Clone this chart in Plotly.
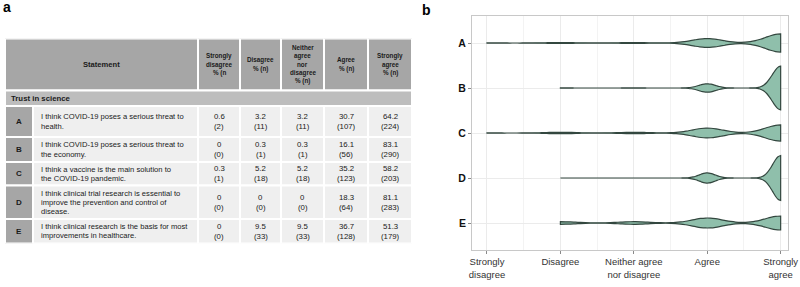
import numpy as np
import plotly.graph_objects as go

W, H = 800, 287

# ---------------- data ----------------
row_ids = ["A", "B", "C", "D", "E"]
statements = [
    "I think COVID-19 poses a serious threat to<br>health.",
    "I think COVID-19 poses a serious threat to<br>the economy.",
    "I think a vaccine is the main solution to<br>the COVID-19 pandemic.",
    "I think clinical trial research is essential to<br>improve the prevention and control of<br>disease.",
    "I think clinical research is the basis for most<br>improvements in healthcare.",
]
pct_strongly_disagree = ["0.6", "0", "0.3", "0", "0"]
pct_disagree = ["3.2", "0.3", "5.2", "0", "9.5"]
pct_neither = ["3.2", "0.3", "5.2", "0", "9.5"]
pct_agree = ["30.7", "16.1", "35.2", "18.3", "36.7"]
pct_strongly_agree = ["64.2", "83.1", "58.2", "81.1", "51.3"]
n_strongly_disagree = [2, 0, 1, 0, 0]
n_disagree = [11, 1, 18, 0, 33]
n_neither = [11, 1, 18, 0, 33]
n_agree = [107, 56, 123, 64, 128]
n_strongly_agree = [224, 290, 203, 283, 179]
# lowest response level at which each violin starts
violin_start = [1, 2, 1, 2, 2]

header_labels = ["Statement", "Strongly<br>disagree<br>% (n", "Disagree<br>% (n)",
                 "Neither<br>agree<br>nor<br>disagree<br>% (n)", "Agree<br>% (n)",
                 "Strongly<br>agree<br>% (n)"]
section_label = "Trust in science"
likert_labels = ["Strongly<br>disagree", "Disagree", "Neither agree<br>nor disagree",
                 "Agree", "Strongly<br>agree"]
likert_levels = [1, 2, 3, 4, 5]

# ---------------- layout constants (pixels) ----------------
FONT = "Liberation Sans, Arial, sans-serif"
TXT = "#1a1a1a"
HEADER_FILL = "#a6a6a6"
SECTION_FILL = "#bdbdbd"
LABEL_FILL = "#a6a6a6"
BODY_FILL = "#efefef"
col_widths = [28, 165, 42, 41, 43, 44, 44]          # id, statement, 5 answer columns
row_heights = [52, 15.5, 31, 25, 23.5, 33.5, 24.5]  # header, section, A..E
TABLE_LEFT, TABLE_TOP = 5, 38.5

def px_x(p):
    return p / W

def px_y(p):
    return 1 - p / H

col_edges = np.concatenate([[0], np.cumsum(col_widths)])
row_edges = np.concatenate([[0], np.cumsum(row_heights)])
table_w, table_h = col_edges[-1], row_edges[-1]

fig = go.Figure()
shapes, annotations = [], []

def add_cell(c0, c1, r, fill, text, align="center", bold=False, size=7.6,
             spacing=9.2, pad=7):
    x0, x1 = col_edges[c0], col_edges[c1]
    y0, y1 = row_edges[r], row_edges[r + 1]
    shapes.append(dict(type="rect", xref="x2", yref="y2", x0=x0, x1=x1, y0=y0, y1=y1,
                       fillcolor=fill, line=dict(color="white", width=2), layer="below"))
    if align == "left":
        xa, xanchor = x0 + pad, "left"
    else:
        xa, xanchor = (x0 + x1) / 2, "center"
    lines = text.split("<br>")
    yc = (y0 + y1) / 2
    for k, line in enumerate(lines):
        annotations.append(dict(
            xref="x2", yref="y2", x=xa, y=yc + (k - (len(lines) - 1) / 2) * spacing,
            xanchor=xanchor, yanchor="middle", borderpad=0,
            text=f"<b>{line}</b>" if bold else line, showarrow=False,
            font=dict(family=FONT, size=size, color=TXT)))

# header row
add_cell(0, 2, 0, HEADER_FILL, header_labels[0], bold=True, size=7.6)
for j, lab in enumerate(header_labels[1:]):
    add_cell(2 + j, 3 + j, 0, HEADER_FILL, lab, bold=True, size=6.3, spacing=8.3)
# section row
add_cell(0, 7, 1, SECTION_FILL, section_label, align="left", bold=True, size=7.8, pad=5)
# body rows
pct_cols = [pct_strongly_disagree, pct_disagree, pct_neither, pct_agree, pct_strongly_agree]
n_cols = [n_strongly_disagree, n_disagree, n_neither, n_agree, n_strongly_agree]
for i, rid in enumerate(row_ids):
    r = 2 + i
    add_cell(0, 1, r, LABEL_FILL, rid, bold=True, size=8)
    add_cell(1, 2, r, BODY_FILL, statements[i], align="left", size=7.6, spacing=9.2, pad=7)
    for j in range(5):
        add_cell(2 + j, 3 + j, r, BODY_FILL, f"{pct_cols[j][i]}<br>({n_cols[j][i]})",
                 size=7.8, spacing=9.8)

# ---------------- violins ----------------
def nrd0(vals):
    sd = np.std(vals, ddof=1)
    q1, q3 = np.percentile(vals, [25, 75])
    lo = min(sd, (q3 - q1) / 1.34)
    if lo == 0:
        lo = sd
    return 0.9 * lo * len(vals) ** -0.2

def max_kde(vals, bw, lo, hi):
    t = np.linspace(lo, hi, 801)
    d = np.exp(-0.5 * ((t[:, None] - vals[None, :]) / bw) ** 2).sum(axis=1)
    return (d / (len(vals) * bw * np.sqrt(2 * np.pi))).max()

counts = list(zip(n_strongly_disagree, n_disagree, n_neither, n_agree, n_strongly_agree))
samples = [np.repeat(likert_levels, c).astype(float) for c in counts]
bws = [nrd0(v) for v in samples]
peaks = [max_kde(v, b, s, 5) for v, b, s in zip(samples, bws, violin_start)]
MAXW = 1.0  # full width (category units) of the densest violin; others scale by area

for rid, vals, bw, start, pk in zip(row_ids, samples, bws, violin_start, peaks):
    fig.add_trace(go.Violin(
        x=vals, y=[rid] * len(vals), orientation="h",
        spanmode="manual", span=[start, 5], bandwidth=bw,
        points=False, box_visible=False, meanline_visible=False,
        fillcolor="#8fbfab", line=dict(color="#33473f", width=1.2),
        scalemode="width", width=MAXW * pk / max(peaks),
        opacity=1, showlegend=False, hoverinfo="skip",
        xaxis="x", yaxis="y",
    ))

axis_common = dict(showline=True, linecolor="#c8c8c8", mirror=True, zeroline=False,
                   ticks="outside", ticklen=3, tickcolor="#8a8a8a",
                   showgrid=True, gridcolor="#ebebeb", gridwidth=1)

fig.update_layout(
    width=W, height=H, margin=dict(l=0, r=0, t=0, b=0),
    paper_bgcolor="white", plot_bgcolor="white",
    violinmode="overlay", showlegend=False,
    xaxis=dict(domain=[px_x(472), px_x(788)], range=[0.796, 5.1],
               tickvals=likert_levels, ticktext=likert_labels, ticklabeloverflow="allow",
               minor=dict(dtick=0.5, tick0=0.5, showgrid=True, gridcolor="#f3f3f3", gridwidth=0.8),
               tickfont=dict(family=FONT, size=9.5, color="#333333"),
               anchor="y", automargin=False, **axis_common),
    yaxis=dict(domain=[px_y(250), px_y(16)], range=[4.6, -0.6],
               categoryorder="array", categoryarray=row_ids, type="category",
               tickfont=dict(family=FONT, size=10.5, color="#111111"),
               tickprefix="<b>", ticksuffix="</b>",
               anchor="x", automargin=False, **axis_common),
    xaxis2=dict(domain=[px_x(TABLE_LEFT), px_x(TABLE_LEFT + table_w)], range=[0, table_w],
                visible=False, fixedrange=True, anchor="y2"),
    yaxis2=dict(domain=[px_y(TABLE_TOP + table_h), px_y(TABLE_TOP)], range=[table_h, 0],
                visible=False, fixedrange=True, anchor="x2"),
    shapes=shapes,
    annotations=annotations + [
        dict(text="<b>a</b>", x=px_x(2), y=px_y(7), xref="paper", yref="paper",
             xanchor="left", yanchor="middle", showarrow=False, borderpad=0,
             font=dict(family=FONT, size=14, color="black")),
        dict(text="<b>b</b>", x=px_x(421), y=px_y(10), xref="paper", yref="paper",
             xanchor="left", yanchor="middle", showarrow=False, borderpad=0,
             font=dict(family=FONT, size=14, color="black")),
    ],
)

fig.write_html(
    "out.html", config={"displayModeBar": False},
    post_script=("document.body.style.margin='0px';"
                 "document.body.style.overflow='hidden';"
                 "document.documentElement.style.overflow='hidden';"))
